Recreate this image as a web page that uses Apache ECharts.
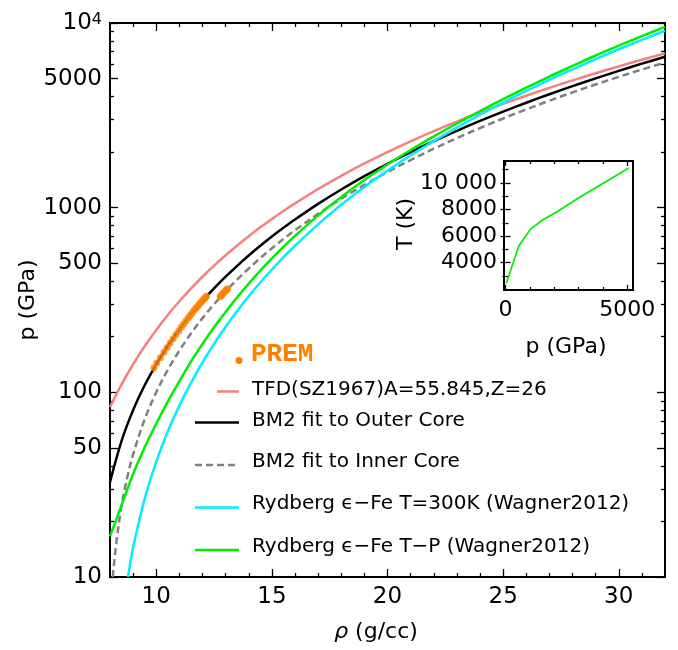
<!DOCTYPE html>
<html lang="en">
<head>
<meta charset="UTF-8">
<title>p vs rho</title>
<script src="https://cdn.jsdelivr.net/npm/echarts@6.0.0/dist/echarts.min.js"></script>
<style>
    html, body { margin: 0; padding: 0; background: #fff; }
    #chart { width: 678px; height: 650px; }
</style>
</head>
<body>
<div id="chart"></div>
<script>
    // density (g/cc) and pressures (GPa)
    var rhoA = [8, 8.5, 9, 9.5, 10, 10.5, 11, 11.5, 12, 12.5, 13, 13.5, 14, 14.5, 15, 15.5, 16,
                17, 18, 19, 20, 21, 22, 23, 24, 25, 26, 27, 28, 29, 30, 31, 32];
    var pTFD = [83.1, 110.4, 141.9, 177.7, 217.8, 262.3, 311.2, 364.6, 422.6, 485.2, 552.4, 624.4, 700.9, 782.3, 868.5, 959.4, 1055,
                1262, 1488, 1735, 2001, 2288, 2598, 2926, 3276, 3647, 4039, 4453, 4889, 5348, 5825, 6327, 6851];
    var pOuter = [32.6, 54.6, 80.1, 109.2, 141.9, 178.6, 219.1, 263.7, 312.4, 365.3, 422.7, 484.4, 550.7, 621.6, 697.2, 777.6, 862.8,
                  1048, 1254, 1481, 1729, 1999, 2292, 2608, 2948, 3311, 3700, 4113, 4551, 5015, 5506, 6022, 6567];
    var pHot = [16.6, 24.5, 36.1, 50.4, 67.6, 89.1, 114.8, 146.6, 182.8, 225.2, 272.3, 327.2, 388, 456, 531, 613, 703,
                908, 1143, 1412, 1714, 2053, 2432, 2856, 3337, 3872, 4467, 5129, 5851, 6668, 7534, 8487, 9528];

    var rhoInner = [8.12, 8.25, 8.5, 8.75, 9, 9.5, 10, 10.5, 11, 11.5, 12, 12.5, 13, 13.5, 14, 14.5, 15, 15.5, 16,
                    17, 18, 19, 20, 21, 22, 23, 24, 25, 26, 27, 28, 29, 30, 31, 32];
    var pInner = [10, 14.5, 24.3, 34.8, 46.1, 71.4, 100.1, 132.5, 168.3, 208.4, 252.2, 300.1, 352, 408.1, 468.5, 533.4, 602.3, 676.6, 755,
                  926.3, 1117, 1328, 1559, 1811, 2085, 2381, 2699, 3041, 3406, 3795, 4209, 4647, 5110, 5599, 6113];

    var rhoCold = [8.78, 9, 9.5, 10, 10.5, 11, 11.5, 12, 12.5, 13, 13.5, 14, 14.5, 15, 15.5, 16,
                   17, 18, 19, 20, 21, 22, 23, 24, 25, 26, 27, 28, 29, 30, 31, 32];
    var pCold = [10, 14.4, 26.5, 42, 61.3, 84.7, 112.5, 145.2, 183.1, 226.5, 275.9, 331.6, 393.5, 462.4, 538.6, 622,
                 812.3, 1036, 1294, 1587, 1921, 2294, 2714, 3186, 3706, 4286, 4923, 5613, 6379, 7208, 8103, 9080];

    // PREM points
    var rhoPremOuter = [9.90, 10.02, 10.18, 10.33, 10.47, 10.60, 10.73, 10.85, 10.97, 11.08, 11.18, 11.28, 11.38,
                        11.47, 11.55, 11.63, 11.71, 11.78, 11.85, 11.92, 11.98, 12.04, 12.09, 12.13, 12.17];
    var pPremOuter = [136, 144, 154, 165, 175, 185, 195, 205, 215, 225, 234, 243, 253,
                      261, 269, 277, 285, 292, 299, 306, 312, 318, 323, 327, 331];
    var rhoPremInner = [12.76, 12.80, 12.85, 12.90, 12.95, 13.00, 13.05, 13.09];
    var pPremInner   = [329, 334, 339, 345, 350, 355, 360, 364];

    // inset: T along the T-P path
    var pInset = [30, 550, 1040, 1540, 2100, 3070, 5070];
    var tInset = [2440, 5260, 6550, 7230, 7810, 8940, 11130];

    // ticks
    var xMajor = [10, 15, 20, 25, 30];
    var xMinor = [9, 11, 12, 13, 14, 16, 17, 18, 19, 21, 22, 23, 24, 26, 27, 28, 29, 31];
    var yMajor = [10, 50, 100, 500, 1000, 5000, 10000];
    var yMinor = [20, 30, 40, 60, 70, 80, 90, 200, 300, 400, 600, 700, 800, 900,
                  2000, 3000, 4000, 6000, 7000, 8000, 9000];
    var insetXMajor = [0, 5000];
    var insetXMinor = [1000, 2000, 3000, 4000];
    var insetYMajor = [4000, 6000, 8000, 10000];
    var insetYMinor = [3000, 5000, 7000, 9000, 11000];

    var FONT = 'DejaVu Sans';
    var ORANGE = '#ff8000';
    var SALMON = '#f58080';
    var CYAN = '#00eeff';
    var GREEN = '#00ee00';
    var GRAY = '#808080';

    var yMajorLog = yMajor.map(Math.log10);
    var yMinorLog = yMinor.map(Math.log10);

    function pairs(xs, ys) {
        return xs.map(function (x, i) { return [x, ys[i]]; });
    }

    function ticks(values, len) {
        return { show: true, inside: true, length: len, customValues: values,
                 lineStyle: { color: '#000', width: 1.3 } };
    }

    // axis that only draws ticks
    function tickAxis(grid, pos, min, max, values, len) {
        return {
            gridIndex: grid, type: 'value', position: pos, min: min, max: max,
            axisLine: { show: false }, splitLine: { show: false },
            axisLabel: { show: false }, axisTick: ticks(values, len)
        };
    }

    function curve(name, xs, ys, color, dash) {
        return {
            name: name, type: 'line', xAxisIndex: 0, yAxisIndex: 0, data: pairs(xs, ys),
            showSymbol: false, smooth: 0.35,
            lineStyle: { color: color, width: 2.5, type: dash || 'solid' }
        };
    }

    var labelStyle = { fontSize: 22, fontFamily: FONT, color: '#000' };
    var mainLabelStyle = { fontSize: 23, fontFamily: FONT, color: '#000' };

    var chart = echarts.init(document.getElementById('chart'), null, { renderer: 'canvas' });

    var option = {
        animation: false,
        backgroundColor: '#fff',
        grid: [
            { left: 110, top: 23, width: 555, height: 554, show: true, borderColor: '#000', borderWidth: 2,
              containLabel: false, outerBoundsMode: 'none' },
            { left: 504, top: 161, width: 129, height: 129, show: true, borderColor: '#000', borderWidth: 2,
              backgroundColor: '#fff', containLabel: false, outerBoundsMode: 'none' }
        ],
        xAxis: [
            Object.assign(tickAxis(0, 'bottom', 8, 32, xMajor, 8), {
                axisLabel: Object.assign({ show: true, customValues: xMajor, margin: 9 }, mainLabelStyle)
            }),
            tickAxis(0, 'bottom', 8, 32, xMinor, 4),
            tickAxis(0, 'top', 8, 32, xMajor, 8),
            tickAxis(0, 'top', 8, 32, xMinor, 4),
            Object.assign(tickAxis(1, 'bottom', -60, 5240, insetXMajor, 5), {
                axisLabel: Object.assign({ show: true, customValues: insetXMajor, margin: 9,
                    formatter: function (v) { return String(v); } }, labelStyle)
            }),
            tickAxis(1, 'bottom', -60, 5240, insetXMinor, 3),
            tickAxis(1, 'top', -60, 5240, insetXMajor, 5),
            tickAxis(1, 'top', -60, 5240, insetXMinor, 3)
        ],
        yAxis: [
            {
                gridIndex: 0, type: 'log', logBase: 10, min: 10, max: 10000, position: 'left',
                axisLine: { show: false }, axisTick: { show: false },
                axisLabel: { show: false }, splitLine: { show: false }
            },
            Object.assign(tickAxis(0, 'left', 1, 4, yMajorLog, 8), {
                axisLabel: Object.assign({
                    show: true, customValues: yMajorLog, margin: 8,
                    formatter: function (v) {
                        var n = Math.round(Math.pow(10, v));
                        return n === 10000 ? '{b|10}{s|4}' : String(n);
                    },
                    rich: {
                        b: { fontSize: 23, lineHeight: 23, fontFamily: FONT, color: '#000' },
                        s: { fontSize: 16, lineHeight: 12, verticalAlign: 'top', fontFamily: FONT, color: '#000' }
                    }
                }, mainLabelStyle)
            }),
            tickAxis(0, 'left', 1, 4, yMinorLog, 4),
            tickAxis(0, 'right', 1, 4, yMajorLog, 8),
            tickAxis(0, 'right', 1, 4, yMinorLog, 4),
            Object.assign(tickAxis(1, 'left', 1950, 11650, insetYMajor, 5), {
                axisLabel: Object.assign({ show: true, customValues: insetYMajor, margin: 7,
                    formatter: function (v) { return v === 10000 ? '10 000' : String(v); } }, labelStyle)
            }),
            tickAxis(1, 'left', 1950, 11650, insetYMinor, 3),
            tickAxis(1, 'right', 1950, 11650, insetYMajor, 5),
            tickAxis(1, 'right', 1950, 11650, insetYMinor, 3)
        ],
        series: [
            curve('TFD', rhoA, pTFD, SALMON),
            curve('BM2 outer', rhoA, pOuter, '#000'),
            curve('BM2 inner', rhoInner, pInner, GRAY, [7, 4]),
            curve('Rydberg 300K', rhoCold, pCold, CYAN),
            curve('Rydberg T-P', rhoA, pHot, GREEN),
            { name: 'PREM', type: 'scatter', xAxisIndex: 0, yAxisIndex: 0,
              data: pairs(rhoPremOuter, pPremOuter).concat(pairs(rhoPremInner, pPremInner)),
              symbol: 'circle', symbolSize: 7, itemStyle: { color: ORANGE }, z: 5 },
            { name: 'T inset', type: 'line', xAxisIndex: 4, yAxisIndex: 5, data: pairs(pInset, tInset),
              showSymbol: false, lineStyle: { color: GREEN, width: 1.7 } }
        ],
        graphic: [
            // axis names
            { type: 'text', x: 28, y: 300, rotation: Math.PI / 2,
              style: { text: 'p (GPa)', fontSize: 22, fontFamily: FONT, fill: '#000', align: 'center', verticalAlign: 'middle' } },
            { type: 'text', x: 376, y: 632,
              style: { text: '{i|ρ} (g/cc)', fontSize: 22, fontFamily: FONT, fill: '#000', align: 'center', verticalAlign: 'middle',
                       rich: { i: { fontStyle: 'italic', fontSize: 22, fontFamily: FONT } } } },
            { type: 'text', x: 406, y: 224, rotation: Math.PI / 2,
              style: { text: 'T (K)', fontSize: 22, fontFamily: FONT, fill: '#000', align: 'center', verticalAlign: 'middle' } },
            { type: 'text', x: 566, y: 347,
              style: { text: 'p (GPa)', fontSize: 22, fontFamily: FONT, fill: '#000', align: 'center', verticalAlign: 'middle' } },

            // legend
            { type: 'circle', shape: { cx: 239, cy: 360.5, r: 3.5 }, style: { fill: ORANGE } },
            { type: 'text', x: 251, y: 354,
              style: { text: 'PREM', fontSize: 26, fontFamily: 'Liberation Mono', fontWeight: 'bold', fill: ORANGE, verticalAlign: 'middle' } },

            { type: 'line', shape: { x1: 217, y1: 391.5, x2: 239, y2: 391.5 }, style: { stroke: SALMON, lineWidth: 2.5 } },
            { type: 'text', x: 252, y: 390,
              style: { text: 'TFD(SZ1967)A=55.845,Z=26', fontSize: 20, fontFamily: FONT, fill: '#000', verticalAlign: 'middle' } },

            { type: 'line', shape: { x1: 195, y1: 422.5, x2: 239, y2: 422.5 }, style: { stroke: '#000', lineWidth: 2.5 } },
            { type: 'text', x: 252, y: 421,
              style: { text: 'BM2 fit to Outer Core', fontSize: 20, fontFamily: FONT, fill: '#000', verticalAlign: 'middle' } },

            { type: 'line', shape: { x1: 195, y1: 465, x2: 239, y2: 465 },
              style: { stroke: GRAY, lineWidth: 2.5, lineDash: [7, 4] } },
            { type: 'text', x: 252, y: 462,
              style: { text: 'BM2 fit to Inner Core', fontSize: 20, fontFamily: FONT, fill: '#000', verticalAlign: 'middle' } },

            { type: 'line', shape: { x1: 195, y1: 507.5, x2: 239, y2: 507.5 }, style: { stroke: CYAN, lineWidth: 2.5 } },
            { type: 'text', x: 252, y: 504,
              style: { text: 'Rydberg ϵ−Fe T=300K (Wagner2012)', fontSize: 20, fontFamily: FONT, fill: '#000', verticalAlign: 'middle' } },

            { type: 'line', shape: { x1: 195, y1: 550, x2: 239, y2: 550 }, style: { stroke: GREEN, lineWidth: 2.5 } },
            { type: 'text', x: 252, y: 547,
              style: { text: 'Rydberg ϵ−Fe T−P (Wagner2012)', fontSize: 20, fontFamily: FONT, fill: '#000', verticalAlign: 'middle' } }
        ]
    };

    chart.setOption(option);
</script>
</body>
</html>
